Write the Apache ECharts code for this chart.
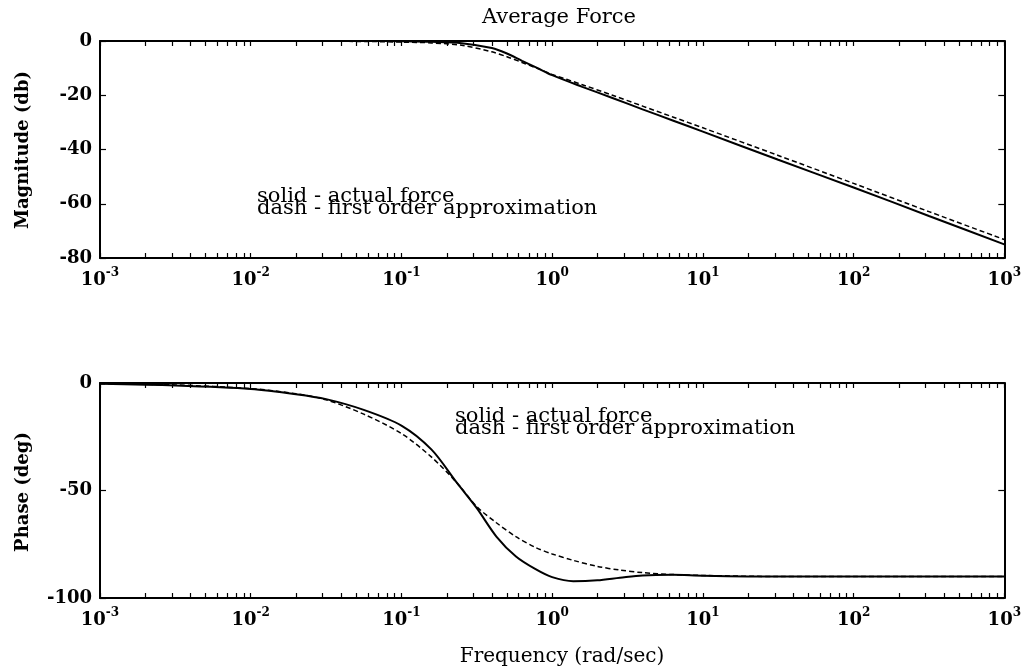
<!DOCTYPE html>
<html lang="en">
  <head>
    <meta charset="UTF-8" />
    <title>Average Force</title>
    <script src="https://cdn.jsdelivr.net/npm/echarts@6/dist/echarts.min.js"></script>
  </head>
  <body style="margin:0;background:#fff;">
    <div id="main" style="width: 1024px;height:672px;"></div>
    <script type="text/javascript">
      // frequency given as log10(rad/sec)
      var magFreqExp = [-3, -2.5, -2, -1.5, -1.2, -1, -0.8, -0.6, -0.4, -0.3, -0.2, -0.1, 0, 0.2, 0.4, 0.6, 0.8, 1, 1.5, 2, 2.5, 3];
      var magActual = [0, 0, 0, 0, 0, -0.1, -0.3, -0.8, -2.6, -4.6, -7.3, -9.9, -12.6, -16.9, -21, -25.2, -29.3, -33.4, -43.8, -54, -64.5, -75];
      var magApprox = [0, 0, 0, -0.1, -0.2, -0.4, -0.7, -1.6, -4.0, -5.8, -7.9, -10.1, -12.3, -16.1, -20, -24, -28, -32, -42.2, -52.5, -62.9, -73.2];

      var phaseFreqExp = [-3, -2.5, -2, -1.7, -1.5, -1.25, -1, -0.8, -0.63, -0.5, -0.37, -0.24, -0.11, 0, 0.14, 0.3, 0.45, 0.6, 0.8, 1, 1.5, 2, 3];
      var phaseActual = [-0.4, -1.2, -2.8, -5.2, -7.5, -12.5, -19.8, -31, -46.6, -58.2, -71.4, -80.7, -86.6, -90.3, -92.2, -91.8, -90.6, -89.5, -89.2, -89.6, -90, -90, -90];
      var phaseApprox = [-0.3, -0.9, -2.6, -5.0, -7.8, -14.5, -23.5, -34.5, -46.6, -57.5, -65, -71.5, -76.5, -79.5, -82.5, -85.3, -87, -88.2, -89.1, -89.5, -90, -90, -90];

      var decadeExps = [-3, -2, -1, 0, 1, 2, 3];

      // minor ticks at 1..9 x 10^n
      var tickExps = [];
      decadeExps.forEach(function (n) {
        if (n === 3) { tickExps.push(3); return; }
        for (var k = 1; k <= 9; k++) tickExps.push(n + Math.log10(k));
      });

      var FONT = '"DejaVu Serif", serif';
      var ink = '#000';

      function xAxisCfg(gridIndex, pos, showLabel) {
        return {
          type: 'value', gridIndex: gridIndex, position: pos,
          min: -3, max: 3, interval: 1,
          axisLine: { show: true, onZero: false, lineStyle: { color: ink, width: 2 } },
          axisTick: { show: true, inside: true, length: 5, customValues: tickExps, lineStyle: { color: ink, width: 1.2 } },
          axisLabel: {
            show: showLabel, margin: 9, customValues: decadeExps,
            formatter: function (v) { return '{b|10}{s|' + v + '}'; },
            rich: {
              b: { fontFamily: FONT, fontSize: 18, fontWeight: 'bold', color: ink, lineHeight: 22, verticalAlign: 'bottom' },
              s: { fontFamily: FONT, fontSize: 12, fontWeight: 'bold', color: ink, lineHeight: 22, verticalAlign: 'top' }
            }
          },
          splitLine: { show: false }
        };
      }

      function yAxisCfg(gridIndex, pos, min, interval, showLabel) {
        return {
          type: 'value', gridIndex: gridIndex, position: pos,
          min: min, max: 0, interval: interval,
          axisLine: { show: true, onZero: false, lineStyle: { color: ink, width: 2 } },
          axisTick: { show: true, inside: true, length: 6, lineStyle: { color: ink, width: 1.2 } },
          axisLabel: { show: showLabel, margin: 8, fontFamily: FONT, fontSize: 18, fontWeight: 'bold', color: ink },
          splitLine: { show: false }
        };
      }

      function pairs(xs, ys) {
        return xs.map(function (x, i) { return [x, ys[i]]; });
      }

      function line(xi, yi, data, dashed) {
        return {
          type: 'line', xAxisIndex: xi, yAxisIndex: yi, data: data,
          symbol: 'none', smooth: 0.3, silent: true,
          lineStyle: dashed ? { color: ink, width: 1.5, type: [5, 3] } : { color: ink, width: 2 }
        };
      }

      var legendText = 'solid - actual force\ndash - first order approximation';

      var option = {
        backgroundColor: '#fff',
        animation: false,
        grid: [
          { left: 100, right: 12, top: 41, height: 217 },
          { left: 100, right: 12, top: 383, height: 215 }
        ],
        xAxis: [
          xAxisCfg(0, 'bottom', true), xAxisCfg(0, 'top', false),
          xAxisCfg(1, 'bottom', true), xAxisCfg(1, 'top', false)
        ],
        yAxis: [
          yAxisCfg(0, 'left', -80, 20, true), yAxisCfg(0, 'right', -80, 20, false),
          yAxisCfg(1, 'left', -100, 50, true), yAxisCfg(1, 'right', -100, 50, false)
        ],
        series: [
          line(0, 0, pairs(magFreqExp, magActual), false),
          line(0, 0, pairs(magFreqExp, magApprox), true),
          line(2, 2, pairs(phaseFreqExp, phaseActual), false),
          line(2, 2, pairs(phaseFreqExp, phaseApprox), true)
        ],
        graphic: [
          { type: 'text', x: 559, y: 18, style: { text: 'Average Force', font: '21px ' + FONT, fill: ink, align: 'center', verticalAlign: 'middle' } },
          { type: 'text', x: 23, y: 150, rotation: Math.PI / 2, style: { text: 'Magnitude (db)', font: 'bold 18px ' + FONT, fill: ink, align: 'center', verticalAlign: 'middle' } },
          { type: 'text', x: 23, y: 492, rotation: Math.PI / 2, style: { text: 'Phase (deg)', font: 'bold 18px ' + FONT, fill: ink, align: 'center', verticalAlign: 'middle' } },
          { type: 'text', x: 562, y: 657, style: { text: 'Frequency (rad/sec)', font: '20px ' + FONT, fill: ink, align: 'center', verticalAlign: 'middle' } },
          { type: 'text', x: 257, y: 191, style: { text: legendText, font: '21px ' + FONT, lineHeight: 12, fill: ink } },
          { type: 'text', x: 455, y: 411, style: { text: legendText, font: '21px ' + FONT, lineHeight: 12, fill: ink } }
        ]
      };

      var myChart = echarts.init(document.getElementById('main'));
      myChart.setOption(option);
    </script>
  </body>
</html>
